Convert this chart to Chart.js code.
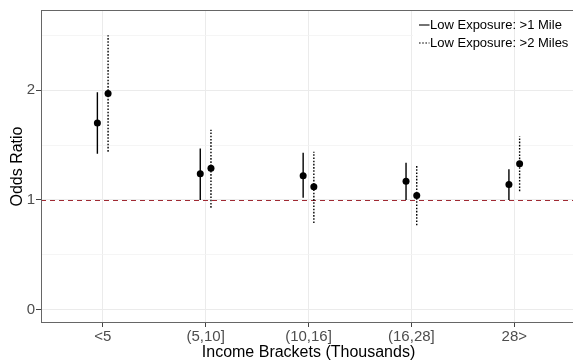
<!DOCTYPE html>
<html>
<head>
<meta charset="utf-8">
<script src="https://cdn.jsdelivr.net/npm/chart.js@4/dist/chart.umd.min.js"></script>
<style>
  html, body { margin: 0; padding: 0; background: #ffffff; overflow: hidden; }
  #wrap { width: 580px; height: 362px; }
</style>
</head>
<body>
<div id="wrap"><canvas id="chart" width="580" height="362"></canvas></div>
<script>
// Income brackets (thousands) on the x axis
const categories = ['<5', '(5,10]', '(10,16]', '(16,28]', '28>'];

// Series names
const seriesNames = ['Low Exposure: >1 Mile', 'Low Exposure: >2 Miles'];

// Odds ratios with lower / upper confidence bounds, >1 mile
const oddsMile1 = [1.70, 1.24, 1.22, 1.17, 1.14];
const lowerMile1 = [1.42, 1.00, 1.02, 1.00, 1.00];
const upperMile1 = [1.98, 1.47, 1.43, 1.34, 1.28];

// Odds ratios with lower / upper confidence bounds, >2 miles
const oddsMile2 = [1.97, 1.29, 1.12, 1.04, 1.33];
const lowerMile2 = [1.44, 0.93, 0.79, 0.77, 1.08];
const upperMile2 = [2.50, 1.64, 1.44, 1.32, 1.58];

// Y axis ticks (labelled at whole numbers, minor lines between)
const yTicks = [0, 0.5, 1, 1.5, 2, 2.5];
const referenceOdds = 1;

const FONT = "'Liberation Sans', Arial, Helvetica, sans-serif";
const dodge = 0.052;
const styles = [
  { dash: [], width: 1.4 },
  { dash: [1.6, 1.6], width: 1.4 }
];

function pointData(values, offset) {
  return values.map((v, i) => ({ x: i + offset, y: v }));
}
function barData(lo, hi, offset) {
  const out = [];
  lo.forEach((l, i) => {
    out.push({ x: i + offset, y: l });
    out.push({ x: i + offset, y: hi[i] });
    out.push({ x: i + offset, y: null });
  });
  return out;
}

const series = [
  { name: seriesNames[0], odds: oddsMile1, lo: lowerMile1, hi: upperMile1, offset: -dodge, style: styles[0] },
  { name: seriesNames[1], odds: oddsMile2, lo: lowerMile2, hi: upperMile2, offset: dodge, style: styles[1] }
];

const datasets = [];
series.forEach(s => {
  datasets.push({
    type: 'line',
    label: s.name + ' interval',
    data: barData(s.lo, s.hi, s.offset),
    borderColor: '#000000',
    borderWidth: s.style.width,
    borderDash: s.style.dash,
    pointRadius: 0,
    spanGaps: false,
    fill: false,
    order: 2
  });
});
series.forEach(s => {
  datasets.push({
    type: 'scatter',
    label: s.name,
    data: pointData(s.odds, s.offset),
    backgroundColor: '#000000',
    borderColor: '#000000',
    borderWidth: 0,
    pointRadius: 3.5,
    order: 1
  });
});

const legendBox = { left: 413, top: 10, height: 47 };

// Legend background, dashed reference line and the panel frame
const panelPlugin = {
  id: 'panel',
  beforeDatasetsDraw(chart) {
    const { ctx, chartArea: a, scales: { x, y } } = chart;
    ctx.save();
    // legend background hides the horizontal grid line behind it
    ctx.fillStyle = '#ffffff';
    ctx.fillRect(legendBox.left, legendBox.top, chart.width - legendBox.left, legendBox.height);
    const gx = Math.round(x.getPixelForValue(categories.length - 1)) + 0.5;
    ctx.strokeStyle = '#ebebeb';
    ctx.lineWidth = 1;
    ctx.beginPath();
    ctx.moveTo(gx, legendBox.top);
    ctx.lineTo(gx, legendBox.top + legendBox.height);
    ctx.stroke();

    const py = Math.round(y.getPixelForValue(referenceOdds)) + 0.5;
    ctx.strokeStyle = '#a02a33';
    ctx.lineWidth = 1;
    ctx.setLineDash([5, 4]);
    ctx.beginPath();
    ctx.moveTo(a.left, py);
    ctx.lineTo(a.right, py);
    ctx.stroke();
    ctx.setLineDash([]);
    ctx.strokeStyle = '#666666';
    ctx.lineWidth = 1;
    ctx.strokeRect(a.left + 0.5, a.top + 0.5, a.right - a.left - 1, a.bottom - a.top - 1);
    ctx.restore();
  }
};

// Legend keys and labels in the top right corner of the panel
const legendPlugin = {
  id: 'cornerLegend',
  afterDatasetsDraw(chart) {
    const { ctx } = chart;
    ctx.save();
    ctx.font = '13px ' + FONT;
    ctx.fillStyle = '#000000';
    ctx.textBaseline = 'middle';
    ctx.textAlign = 'left';
    series.forEach((s, i) => {
      const cy = 24.5 + i * 18;
      ctx.strokeStyle = '#000000';
      ctx.lineWidth = s.style.width - 0.3;
      ctx.setLineDash(s.style.dash);
      ctx.beginPath();
      ctx.moveTo(419, cy + 0.5);
      ctx.lineTo(429.5, cy + 0.5);
      ctx.stroke();
      ctx.setLineDash([]);
      ctx.fillText(s.name, 430, cy + 1);
    });
    ctx.restore();
  }
};

const isMajor = v => Math.abs(v - Math.round(v)) < 1e-9;

new Chart(document.getElementById('chart'), {
  type: 'scatter',
  data: { datasets },
  plugins: [panelPlugin, legendPlugin],
  options: {
    responsive: false,
    devicePixelRatio: 1,
    animation: false,
    layout: { padding: { top: 9, right: 4, bottom: 0, left: 0 } },
    plugins: { legend: { display: false }, tooltip: { enabled: false } },
    scales: {
      x: {
        type: 'linear',
        min: -0.6,
        max: categories.length - 1 + 0.6,
        afterBuildTicks(scale) {
          scale.ticks = categories.map((c, i) => ({ value: i }));
        },
        afterFit(scale) { scale.height = 39; },
        border: { display: false },
        grid: {
          color: '#ebebeb',
          lineWidth: 1,
          drawTicks: true,
          tickLength: 4,
          tickColor: '#444444',
          tickWidth: 1
        },
        ticks: {
          padding: 1,
          autoSkip: false,
          maxRotation: 0,
          color: '#4d4d4d',
          font: { family: FONT, size: 15 },
          callback: v => categories[v]
        },
        title: {
          display: true,
          text: 'Income Brackets (Thousands)',
          color: '#000000',
          font: { family: FONT, size: 16 },
          padding: { top: 0, bottom: 0 }
        }
      },
      y: {
        type: 'linear',
        min: -0.12,
        max: 2.73,
        afterBuildTicks(scale) {
          scale.ticks = yTicks.map(v => ({ value: v }));
        },
        afterFit(scale) { scale.width = 41; },
        border: { display: false },
        grid: {
          color: ctx => isMajor(ctx.tick.value) ? '#ebebeb' : '#f3f3f3',
          lineWidth: ctx => isMajor(ctx.tick.value) ? 1 : 0.8,
          drawTicks: true,
          tickLength: 5,
          tickColor: ctx => isMajor(ctx.tick.value) ? '#444444' : 'rgba(0,0,0,0)',
          tickWidth: 1
        },
        ticks: {
          padding: 1,
          color: '#4d4d4d',
          font: { family: FONT, size: 15 },
          callback: v => isMajor(v) ? String(v) : ''
        },
        title: {
          display: true,
          text: 'Odds Ratio',
          color: '#000000',
          font: { family: FONT, size: 16 },
          padding: { top: 8, bottom: 0 }
        }
      }
    }
  }
});
</script>
</body>
</html>
